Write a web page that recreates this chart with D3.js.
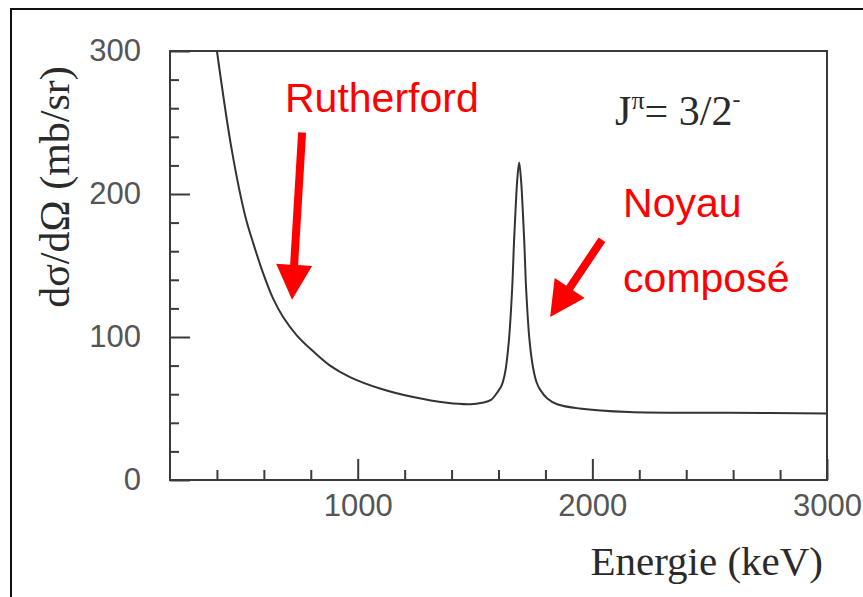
<!DOCTYPE html>
<html>
<head>
<meta charset="utf-8">
<script src="https://cdn.jsdelivr.net/npm/d3@7"></script>
<style>
  html, body { margin: 0; padding: 0; background: #fff; }
  svg { display: block; }
</style>
</head>
<body>
<svg id="chart" width="863" height="597"></svg>
<script>
// Differential cross section vs. beam energy (Rutherford + compound-nucleus resonance)
const energy = [400, 463, 520, 554, 596, 639, 682, 741, 810, 882, 967, 1095, 1236, 1380, 1480, 1530,
                1568, 1598, 1613, 1628, 1644, 1658, 1666, 1673, 1680, 1688, 1696, 1703, 1710, 1718,
                1732, 1748, 1763, 1778, 1808, 1850, 1945, 2157, 2583, 3000];
const crossSection = [300, 231, 185, 166, 145, 127, 114, 101, 90, 80, 72, 64, 58, 54, 53, 54,
                      56, 62, 66, 75, 97, 133, 166, 190, 210, 222, 210, 190, 166, 133,
                      98, 78, 68, 63, 57, 53, 50, 47.5, 47, 46.5];

const xTicksMajor = [1000, 2000, 3000];
const xTicksMinor = [400, 600, 800, 1200, 1400, 1600, 1800, 2200, 2400, 2600, 2800];
const yTicksMajor = [0, 100, 200, 300];
const yTicksMinor = [20, 40, 60, 80, 120, 140, 160, 180, 220, 240, 260, 280];

const svg = d3.select("#chart");

// outer frame (only left and top edges fall inside the page)
svg.append("path")
  .attr("d", "M11,597 L11,9 L863,9")
  .attr("fill", "none").attr("stroke", "#111").attr("stroke-width", 2);

const x = d3.scaleLinear().domain([200, 3000]).range([170, 827]);
const y = d3.scaleLinear().domain([0, 300]).range([480, 51]);

const axisColor = "#3a3a3a";
const g = svg.append("g");

// plot box
g.append("rect")
  .attr("x", x(200)).attr("y", y(300))
  .attr("width", x(3000) - x(200)).attr("height", y(0) - y(300))
  .attr("fill", "none").attr("stroke", axisColor).attr("stroke-width", 2);

// inward ticks
const bottomMajor = d3.axisBottom(x).tickValues(xTicksMajor).tickSizeInner(-21).tickSizeOuter(0).tickFormat(d3.format("d"));
const bottomMinor = d3.axisBottom(x).tickValues(xTicksMinor).tickSizeInner(-10).tickSizeOuter(0).tickFormat("");
const leftMajor = d3.axisLeft(y).tickValues(yTicksMajor).tickSizeInner(-20).tickSizeOuter(0).tickFormat(d3.format("d"));
const leftMinor = d3.axisLeft(y).tickValues(yTicksMinor).tickSizeInner(-9).tickSizeOuter(0).tickFormat("");

function styleAxis(sel) {
  sel.select(".domain").remove();
  sel.selectAll(".tick line").attr("stroke", axisColor).attr("stroke-width", 2);
  sel.selectAll(".tick text")
    .attr("fill", "#555")
    .style("font-family", "'Liberation Sans', Arial, sans-serif")
    .style("font-size", "31px");
}

g.append("g").attr("transform", `translate(0,${y(0)})`).call(bottomMinor).call(styleAxis);
const bx = g.append("g").attr("transform", `translate(0,${y(0)})`).call(bottomMajor).call(styleAxis);
bx.selectAll(".tick text").attr("y", 14).attr("dy", "0.71em");

g.append("g").attr("transform", `translate(${x(200)},0)`).call(leftMinor).call(styleAxis);
const ly = g.append("g").attr("transform", `translate(${x(200)},0)`).call(leftMajor).call(styleAxis);
ly.selectAll(".tick text").attr("x", -29);

// cross-section curve
const line = d3.line()
  .x((d, i) => x(energy[i]))
  .y(d => y(d))
  .curve(d3.curveCatmullRom.alpha(0.5));

g.append("path")
  .datum(crossSection)
  .attr("d", line)
  .attr("fill", "none")
  .attr("stroke", "#333")
  .attr("stroke-width", 2)
  .attr("stroke-linejoin", "round");

// axis titles
svg.append("text")
  .attr("x", 823).attr("y", 575)
  .attr("text-anchor", "end")
  .attr("fill", "#2a2a2a")
  .style("font-family", "'Liberation Serif', 'Times New Roman', serif")
  .style("font-size", "41px")
  .text("Energie (keV)");

svg.append("text")
  .attr("transform", "translate(69,187) rotate(-90)")
  .attr("text-anchor", "middle")
  .attr("fill", "#2a2a2a")
  .style("font-family", "'Liberation Serif', 'Times New Roman', serif")
  .style("font-size", "42px")
  .text("dσ/dΩ (mb/sr)");

// spin-parity label
const jp = svg.append("text")
  .attr("x", x(2097)).attr("y", y(248))
  .attr("fill", "#2a2a2a")
  .style("font-family", "'Liberation Serif', 'Times New Roman', serif")
  .style("font-size", "42px");
jp.append("tspan").text("J");
jp.append("tspan").attr("dy", -16).style("font-size", "26px").text("π");
jp.append("tspan").attr("dy", 16).text("= 3/2");
jp.append("tspan").attr("dy", -18).style("font-size", "24px").text("-");

// red annotations
const red = "#ff0000";
function label(txt, e, v) {
  svg.append("text")
    .attr("x", x(e)).attr("y", y(v))
    .attr("fill", red)
    .style("font-family", "'Liberation Sans', Arial, sans-serif")
    .style("font-size", "41px")
    .text(txt);
}
label("Rutherford", 690, 257);
label("Noyau", 2131, 184);
label("composé", 2131, 131.5);

function arrow(from, to) {
  const x0 = x(from[0]), y0 = y(from[1]), x1 = x(to[0]), y1 = y(to[1]);
  const dx = x1 - x0, dy = y1 - y0, L = Math.hypot(dx, dy);
  const ux = dx / L, uy = dy / L, px = -uy, py = ux;
  const headL = 35, headW = 18, shaftW = 4;
  const bx = x1 - ux * headL, by = y1 - uy * headL;
  const pts = [
    [x0 + px * shaftW, y0 + py * shaftW],
    [bx + px * shaftW, by + py * shaftW],
    [bx + px * headW, by + py * headW],
    [x1, y1],
    [bx - px * headW, by - py * headW],
    [bx - px * shaftW, by - py * shaftW],
    [x0 - px * shaftW, y0 - py * shaftW]
  ];
  svg.append("polygon").attr("points", pts.map(p => p.join(",")).join(" ")).attr("fill", red);
}
arrow([763, 243], [720, 126]);
arrow([2041, 168], [1820, 114]);
</script>
</body>
</html>
